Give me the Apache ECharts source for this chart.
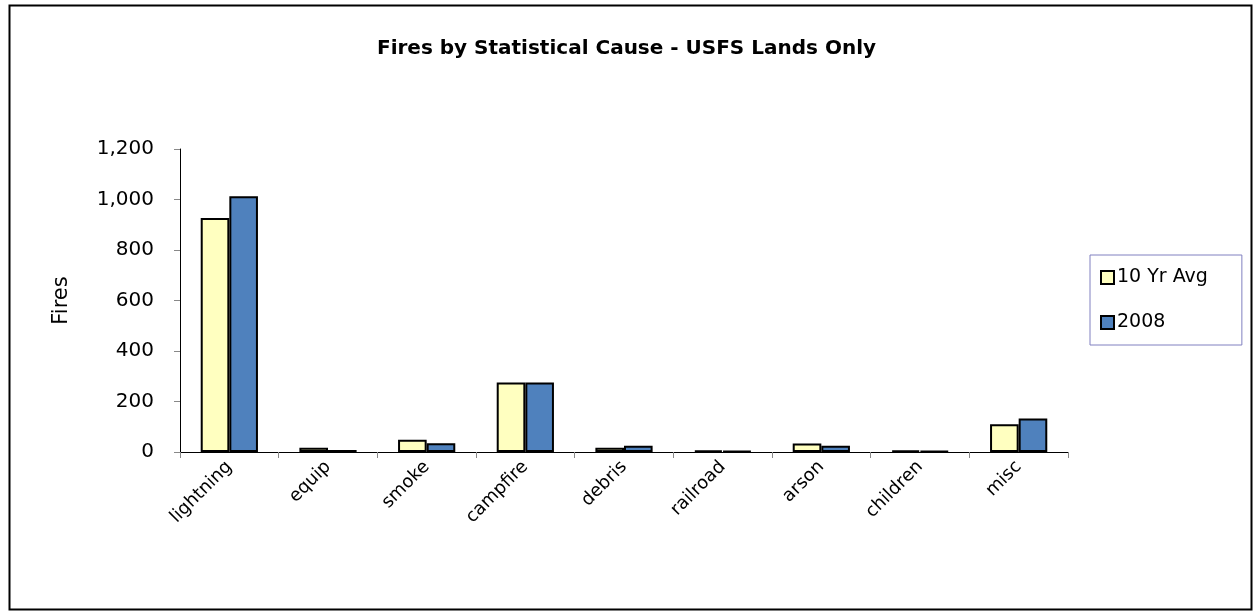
<!DOCTYPE html>
<html>
<head>
<meta charset="utf-8">
<script src="https://cdn.jsdelivr.net/npm/echarts@6/dist/echarts.min.js"></script>
<style>
  html, body { margin: 0; padding: 0; background: #fff; }
  #chart { width: 1253px; height: 613px; }
</style>
</head>
<body>
<div id="chart"></div>
<script>
var chart = echarts.init(document.getElementById('chart'));

var causes = ['lightning', 'equip', 'smoke', 'campfire', 'debris', 'railroad', 'arson', 'children', 'misc'];
var avg10yr = [927, 17, 49, 275, 17, 6, 34, 6, 110];
var fires2008 = [1013, 8, 35, 275, 25, 3, 25, 3, 133];

var font = '"Comic Sans MS", "DejaVu Sans", sans-serif';

var option = {
    animation: false,
    backgroundColor: '#fff',
    title: {
        text: 'Fires by Statistical Cause - USFS Lands Only',
        left: 'center',
        top: 34,
        textStyle: { fontFamily: font, fontSize: 20, fontWeight: 'bold', color: '#000' }
    },
    legend: {
        orient: 'vertical',
        left: 1090,
        top: 255,
        padding: [13, 34, 13, 10],
        itemGap: 26,
        itemWidth: 13,
        itemHeight: 13,
        icon: 'rect',
        borderColor: '#8080c0',
        borderWidth: 1,
        textStyle: { fontFamily: font, fontSize: 19, color: '#000', padding: [0, 0, 0, -2] },
        data: ['10 Yr Avg', '2008']
    },
    grid: {
        left: 180,
        right: 185,
        top: 149,
        bottom: 161
    },
    xAxis: {
        type: 'category',
        data: causes,
        axisLine: { lineStyle: { color: '#000', width: 1 } },
        axisTick: { show: true, length: 6, lineStyle: { color: '#888' } },
        axisLabel: {
            rotate: 45,
            margin: 12,
            fontFamily: font,
            fontSize: 18,
            color: '#000'
        }
    },
    yAxis: {
        type: 'value',
        min: 0,
        max: 1200,
        interval: 200,
        name: 'Fires',
        nameLocation: 'middle',
        nameGap: 108,
        nameTextStyle: { fontFamily: font, fontSize: 21, color: '#000' },
        splitLine: { show: false },
        axisLine: { show: true, lineStyle: { color: '#000', width: 1 } },
        axisTick: { show: true, length: 6, lineStyle: { color: '#888' } },
        axisLabel: {
            margin: 26,
            fontFamily: font,
            fontSize: 20,
            color: '#000',
            formatter: function (v) { return v.toLocaleString('en-US'); }
        }
    },
    series: [
        {
            name: '10 Yr Avg',
            type: 'bar',
            data: avg10yr,
            barGap: '0%',
            barCategoryGap: '42%',
            itemStyle: { color: '#ffffc0', borderColor: '#000', borderWidth: 2 }
        },
        {
            name: '2008',
            type: 'bar',
            data: fires2008,
            itemStyle: { color: '#4f81bd', borderColor: '#000', borderWidth: 2 }
        }
    ],
    graphic: [
        {
            type: 'rect',
            left: 7,
            top: 3,
            shape: { width: 1242, height: 604 },
            style: { fill: 'none', stroke: '#000', lineWidth: 2 },
            silent: true
        }
    ]
};
chart.setOption(option);
</script>
</body>
</html>
